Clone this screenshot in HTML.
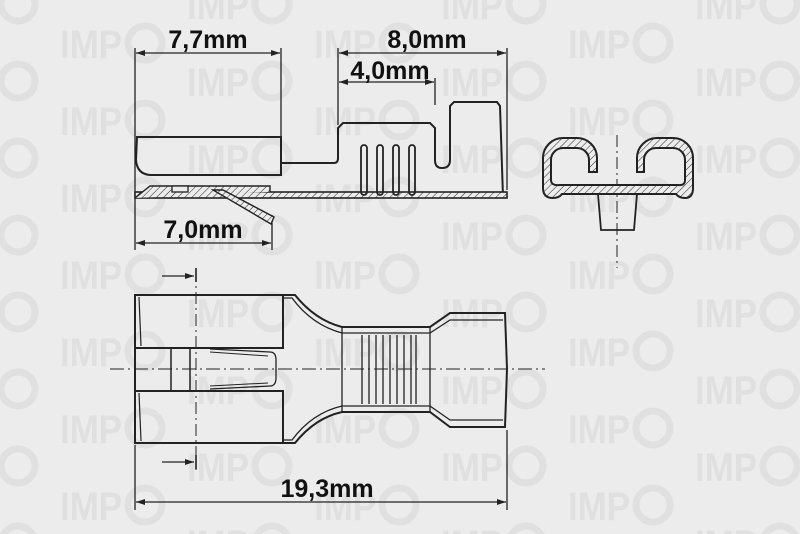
<!DOCTYPE html>
<html><head><meta charset="utf-8"><style>
html,body{margin:0;padding:0;background:#ececec;}
svg{display:block;}
text{font-family:"Liberation Sans",sans-serif;}
</style></head><body>
<svg width="800" height="534" viewBox="0 0 800 534" xmlns="http://www.w3.org/2000/svg">
<defs>
<pattern id="wm" x="0" y="0" width="254" height="77" patternUnits="userSpaceOnUse">
  <g id="u" fill="#e0e0e0">
    <text x="60" y="58" font-size="40" font-weight="bold" textLength="62" lengthAdjust="spacingAndGlyphs">IMP</text>
    <circle cx="145" cy="43" r="17" fill="none" stroke="#e0e0e0" stroke-width="7"/>
  </g>
  <use href="#u" x="127" y="38"/>
  <use href="#u" x="127" y="-39"/>
  <use href="#u" x="-254" y="0"/>
  <use href="#u" x="-127" y="38"/>
  <use href="#u" x="-127" y="-39"/>
</pattern>
<pattern id="h" width="5" height="5" patternUnits="userSpaceOnUse" patternTransform="rotate(45)">
  <rect width="5" height="5" fill="#ececec"/>
  <line x1="0" y1="0" x2="0" y2="5" stroke="#222" stroke-width="1"/>
</pattern>
<marker id="a" markerWidth="10" markerHeight="6" refX="9" refY="3" orient="auto-start-reverse" markerUnits="userSpaceOnUse">
  <path d="M0,0 L9,3 L0,6 z" fill="#222"/>
</marker>
</defs>
<rect width="800" height="534" fill="#ececec"/>
<rect width="800" height="534" fill="url(#wm)"/>

<g stroke="#222" stroke-width="1.3" fill="none">
<line x1="135" y1="48" x2="135" y2="250"/>
<line x1="281" y1="48" x2="281" y2="140"/>
<line x1="338" y1="48" x2="338" y2="125"/>
<line x1="507" y1="48" x2="507" y2="190"/>
<line x1="435" y1="78" x2="435" y2="105"/>
<line x1="272" y1="215" x2="272" y2="250"/>
<line x1="136" y1="53" x2="280" y2="53" marker-start="url(#a)" marker-end="url(#a)"/>
<line x1="339" y1="53" x2="506" y2="53" marker-start="url(#a)" marker-end="url(#a)"/>
<line x1="339" y1="82" x2="434" y2="82" marker-start="url(#a)" marker-end="url(#a)"/>
<line x1="136" y1="243" x2="271" y2="243" marker-start="url(#a)" marker-end="url(#a)"/>

<path d="M137,137 L281,137 L281,175 L150,175 Q137,174 136,160 Z" stroke-width="2"/>
<path d="M281,163 L334,163 Q338,163 338,158 L338,128 L343,123 L430,123 L435,128 L435,160 Q435,168 442,168 Q450,168 450,160 L450,106 L454,102 L497,102 L500,106 L503,197" stroke-width="2"/>
<rect x="135" y="192" width="372" height="6" fill="url(#h)" stroke-width="1.6"/>
<path d="M135,198 L150,186 L270,186 L270,192" fill="url(#h)" stroke-width="1.4"/>
<rect x="172" y="186" width="16" height="6" fill="#ececec"/>
<path d="M213,190 L223,190 L274,217 L271,224 Z" fill="url(#h)" stroke-width="1.4"/>
<g stroke-width="1.8">
<rect x="361" y="145" width="6" height="50" rx="3"/>
<rect x="377" y="145" width="6" height="50" rx="3"/>
<rect x="393" y="145" width="6" height="50" rx="3"/>
<rect x="409" y="145" width="6" height="50" rx="3"/>
</g>

<line x1="617" y1="135" x2="617" y2="268" stroke-dasharray="12,4,2,4" stroke-width="1"/>
<path fill="url(#h)" stroke-width="2" fill-rule="evenodd" d="M597,172 L597,158 A20,20 0 0 0 577,138 L563,138 A20,20 0 0 0 543,158 L543,188 Q543,198 553,198 Q559,198 562,194 L676,194 Q679,198 685,198 Q693,198 693,188 L693,158 A20,20 0 0 0 673,138 L657,138 A20,20 0 0 0 637,158 L637,172 L644,172 L644,160 A12,12 0 0 1 656,148 L673,148 A12,12 0 0 1 685,160 L685,180 Q685,186 678,185 L560,185 Q551,186 551,180 L551,160 A12,12 0 0 1 563,148 L577,148 A12,12 0 0 1 589,160 L589,172 Z"/>
<path d="M598,194 L601,230 L634,230 L637,194" stroke-width="1.8"/>

<line x1="110" y1="369" x2="545" y2="369" stroke-dasharray="14,4,2,4" stroke-width="1"/>
<line x1="196" y1="270" x2="196" y2="470" stroke-dasharray="12,4,2,4" stroke-width="1"/>
<line x1="196" y1="268" x2="196" y2="282" stroke-width="1.6"/>
<line x1="196" y1="455" x2="196" y2="469" stroke-width="1.6"/>
<line x1="162" y1="276" x2="194" y2="276" marker-end="url(#a)"/>
<line x1="162" y1="462" x2="194" y2="462" marker-end="url(#a)"/>
<g stroke-width="2">
<path d="M135,295 L295,295 Q315,320 342,327 L430,327 L450,313 L505,313 L507,369 L505,427 L450,427 L430,412 L342,412 Q315,418 295,443 L135,443 Z"/>
<path d="M136,348 L283,348 L283,295"/>
<path d="M136,391 L283,391 L283,443"/>
<path d="M139,297 L141,346 M139,393 L141,441" stroke-width="1.2"/>
<path d="M171,348 L171,391 M190,348 L190,391" stroke-width="1.5"/>
<path d="M210,349 L270,352 Q276,352 276,360 L276,378 Q276,386 270,386 L210,389" stroke-width="1.3"/>
<path d="M210,352 L268,356 M210,386 L268,383" stroke-width="1"/>
<path d="M283,298 L292,298 Q312,325 342,333 L430,333 L450,320 L503,320 M283,440 L292,440 Q312,413 342,406 L430,406 L450,420 L503,420" stroke-width="1.3"/>
<path d="M342,327 L342,412 M430,327 L430,412" stroke-width="1.3"/>
</g>
<g stroke-width="1.3">
<line x1="362" y1="335" x2="362" y2="404"/><line x1="369" y1="335" x2="369" y2="404"/>
<line x1="376" y1="335" x2="376" y2="404"/><line x1="383" y1="335" x2="383" y2="404"/>
<line x1="390" y1="335" x2="390" y2="404"/><line x1="397" y1="335" x2="397" y2="404"/>
<line x1="404" y1="335" x2="404" y2="404"/><line x1="411" y1="335" x2="411" y2="404"/>
<line x1="416" y1="335" x2="416" y2="404"/>
</g>
<line x1="135" y1="445" x2="135" y2="510"/>
<line x1="507" y1="430" x2="507" y2="510"/>
<line x1="136" y1="502" x2="506" y2="502" marker-start="url(#a)" marker-end="url(#a)"/>
</g>

<g fill="#111" font-weight="bold" font-size="25" text-anchor="middle">
<text x="208" y="48">7,7mm</text>
<text x="427" y="48">8,0mm</text>
<text x="390" y="79">4,0mm</text>
<text x="203" y="238">7,0mm</text>
<text x="327" y="497">19,3mm</text>
</g>
</svg>
</body></html>
